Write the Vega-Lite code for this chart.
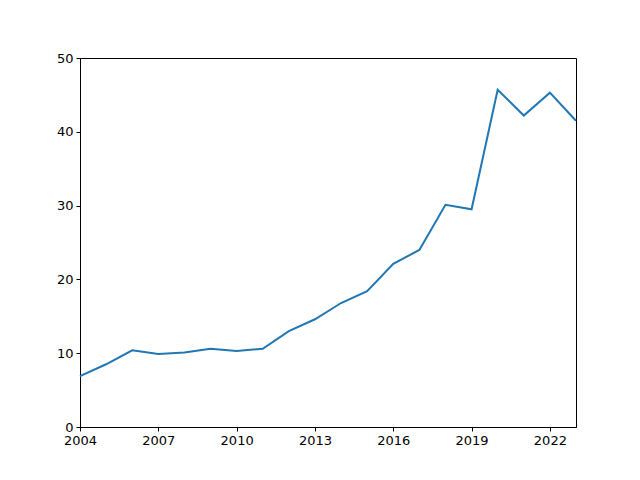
{
  "$schema": "https://vega.github.io/schema/vega-lite/v6.json",
  "width": 496,
  "height": 369,
  "autosize": {"type": "none"},
  "padding": {"left": 80, "top": 58, "right": 64, "bottom": 53},
  "background": "white",
  "config": {
    "view": {"stroke": "black", "strokeWidth": 1},
    "axis": {
      "grid": false,
      "domainColor": "black",
      "tickColor": "black",
      "tickSize": 4,
      "labelFont": "DejaVu Sans",
      "labelFontSize": 13,
      "labelColor": "black",
      "labelPadding": 3,
      "labelFlush": false,
      "labelOverlap": false,
      "title": null
    }
  },
  "data": {
    "values": [
      {"year": 2004, "value": 6.9},
      {"year": 2005, "value": 8.5},
      {"year": 2006, "value": 10.4},
      {"year": 2007, "value": 9.9},
      {"year": 2008, "value": 10.1},
      {"year": 2009, "value": 10.6},
      {"year": 2010, "value": 10.3},
      {"year": 2011, "value": 10.6},
      {"year": 2012, "value": 13.0},
      {"year": 2013, "value": 14.6},
      {"year": 2014, "value": 16.8},
      {"year": 2015, "value": 18.4},
      {"year": 2016, "value": 22.1},
      {"year": 2017, "value": 24.0},
      {"year": 2018, "value": 30.1},
      {"year": 2019, "value": 29.5},
      {"year": 2020, "value": 45.7},
      {"year": 2021, "value": 42.2},
      {"year": 2022, "value": 45.3},
      {"year": 2023, "value": 41.5}
    ]
  },
  "mark": {"type": "line", "color": "#1f77b4", "strokeWidth": 2},
  "encoding": {
    "x": {
      "field": "year",
      "type": "quantitative",
      "scale": {"domain": [2004, 2023], "nice": false, "zero": false},
      "axis": {"values": [2004, 2007, 2010, 2013, 2016, 2019, 2022], "format": "d"}
    },
    "y": {
      "field": "value",
      "type": "quantitative",
      "scale": {"domain": [0, 50], "nice": false},
      "axis": {"values": [0, 10, 20, 30, 40, 50]}
    }
  }
}
